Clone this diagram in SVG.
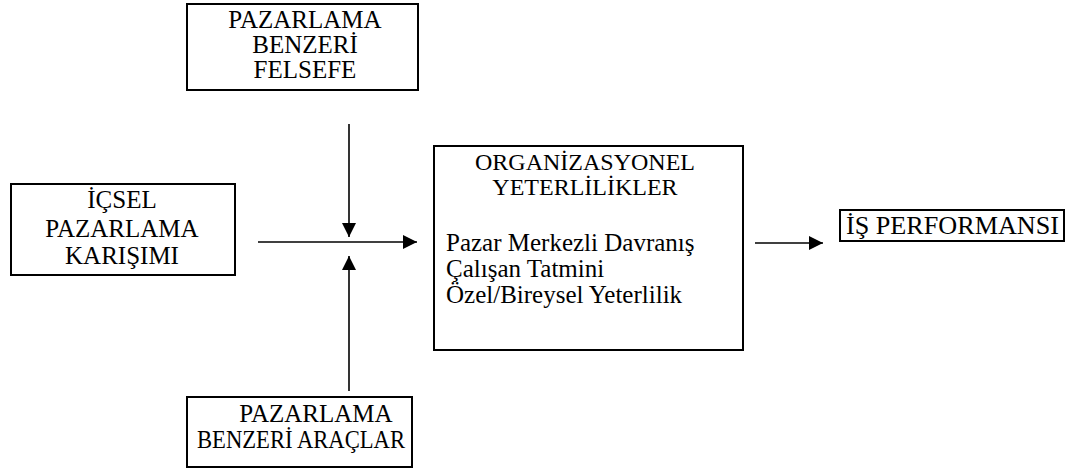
<svg xmlns="http://www.w3.org/2000/svg" width="1083" height="470" viewBox="0 0 1083 470">
<style>
.box{fill:#fff;stroke:#000;stroke-width:2}
.t{font-family:"Liberation Serif","Times New Roman",serif;font-size:25px;fill:#000}
.h{font-size:24px}
.c{text-anchor:middle}
.ln{stroke:#000;stroke-width:1.6;fill:none}
</style>
<defs>
<marker id="ah" viewBox="0 0 10 10" refX="10" refY="5" markerWidth="14" markerHeight="15" markerUnits="userSpaceOnUse" orient="auto">
<path d="M0,0 L10,5 L0,10 Z" fill="#000"/>
</marker>
</defs>
<rect width="1083" height="470" fill="#fff"/>
<g id="felsefe">
<rect class="box" x="187" y="4" width="231" height="86"/>
<text class="t c" x="305" y="28">PAZARLAMA</text>
<text class="t c" x="305" y="53">BENZERİ</text>
<text class="t c" x="305" y="78">FELSEFE</text>
</g>
<g id="karisim">
<rect class="box" x="11" y="184" width="224" height="91"/>
<text class="t c" x="122" y="208">İÇSEL</text>
<text class="t c" x="122" y="237">PAZARLAMA</text>
<text class="t c" x="122" y="264">KARIŞIMI</text>
</g>
<g id="yeterlilik">
<rect class="box" x="434" y="146" width="309" height="204"/>
<text class="t h c" x="585" y="170">ORGANİZASYONEL</text>
<text class="t h c" x="585" y="195">YETERLİLİKLER</text>
<text class="t" x="446" y="251">Pazar Merkezli Davranış</text>
<text class="t" x="446" y="277">Çalışan Tatmini</text>
<text class="t" x="446" y="303">Özel/Bireysel Yeterlilik</text>
</g>
<g id="performans">
<rect class="box" x="840" y="210" width="224" height="31"/>
<text class="t" x="846" y="234" textLength="213" lengthAdjust="spacingAndGlyphs">İŞ PERFORMANSI</text>
</g>
<g id="araclar">
<rect class="box" x="187" y="397" width="225" height="70"/>
<text class="t c" x="316" y="422">PAZARLAMA</text>
<text class="t" x="197" y="448" textLength="208" lengthAdjust="spacingAndGlyphs">BENZERİ ARAÇLAR</text>
</g>
<g id="connectors">
<line class="ln" x1="258" y1="242" x2="417" y2="242" marker-end="url(#ah)"/>
<line class="ln" x1="349" y1="124" x2="349" y2="237" marker-end="url(#ah)"/>
<line class="ln" x1="349" y1="391" x2="349" y2="256" marker-end="url(#ah)"/>
<line class="ln" x1="755" y1="243" x2="823" y2="243" marker-end="url(#ah)"/>
</g>
</svg>
